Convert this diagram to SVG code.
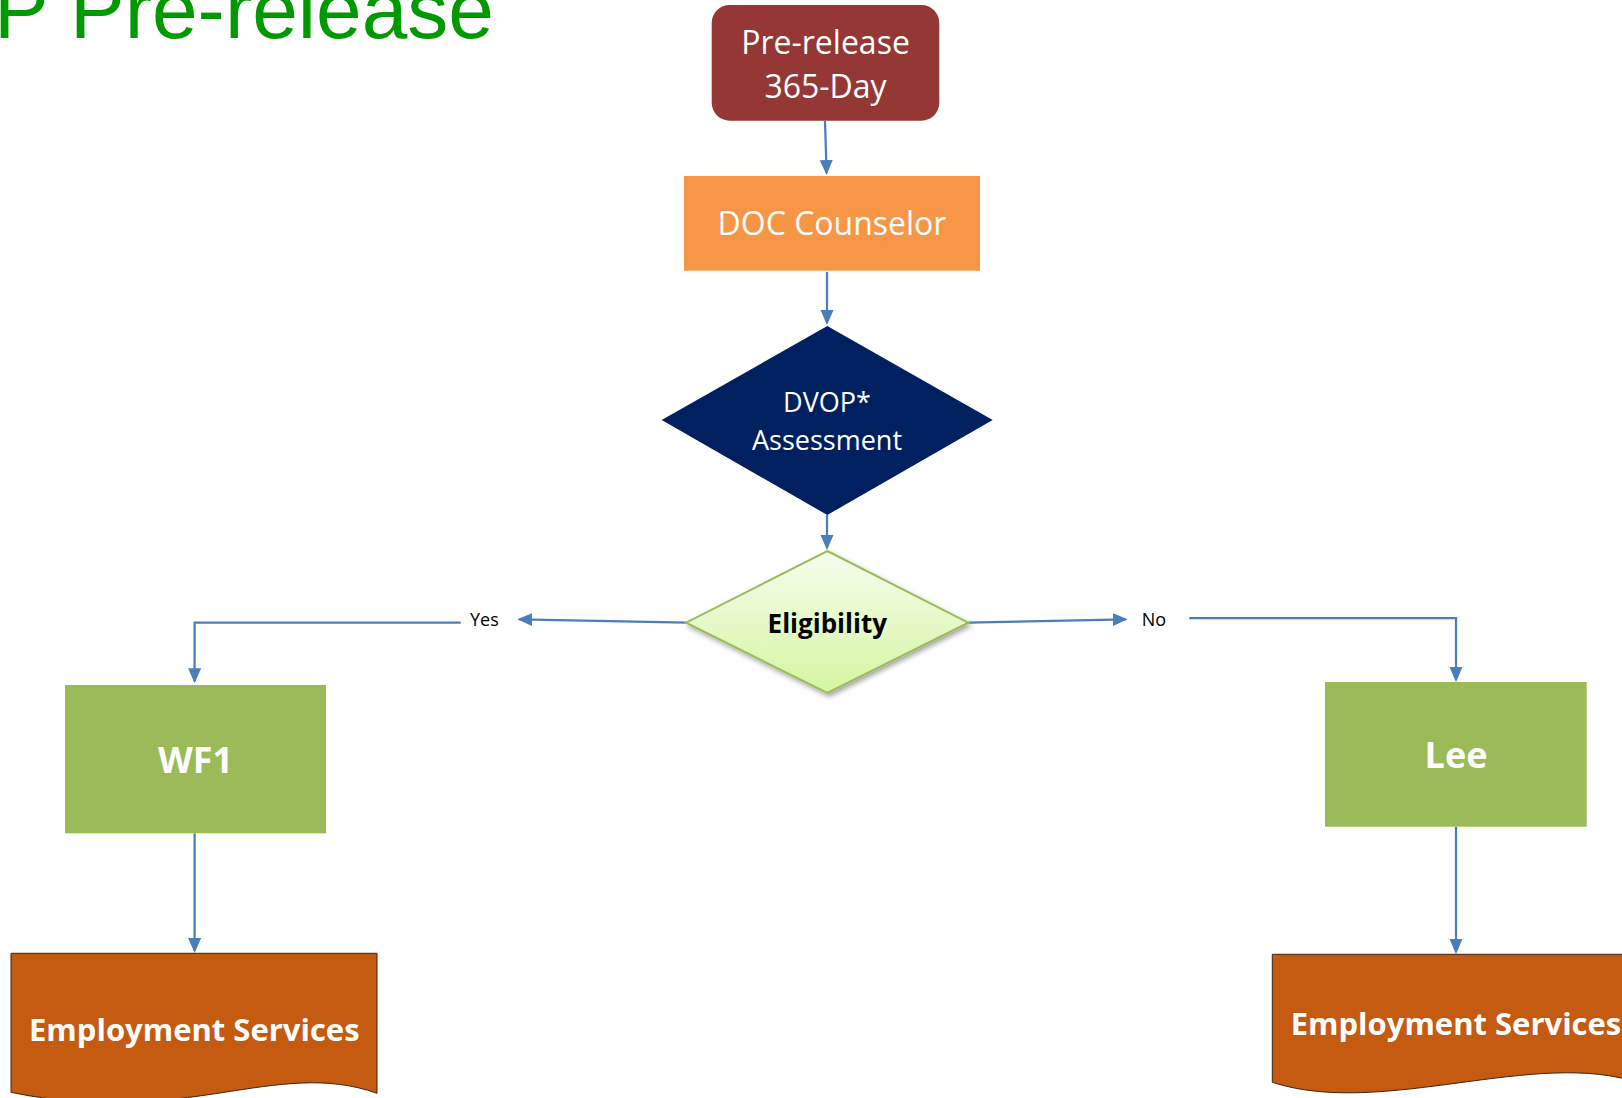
<svg xmlns="http://www.w3.org/2000/svg" width="1622" height="1098" viewBox="0 0 1622 1098">
<style>
.conn{fill:none;stroke:#4a7ebb;stroke-width:2.25}
.lbl{font-family:"Open Sans","Noto Sans",sans-serif;fill:#fff;text-anchor:middle}
.b{font-weight:bold}
.small{font-family:"Open Sans","Noto Sans",sans-serif;font-size:18px;fill:#000}
.green{fill:#9bbb59}
.doc{fill:#c55a11;stroke:#3a2510;stroke-width:1}
</style>
<defs>
<marker id="arr" markerUnits="userSpaceOnUse" markerWidth="16" markerHeight="14" refX="13" refY="6.5" orient="auto">
<path d="M0,0 L15,6.5 L0,13 z" fill="#4a7ebb"/>
</marker>
<linearGradient id="elig" x1="0" y1="0" x2="0" y2="1">
<stop offset="0" stop-color="#f6fdee"/>
<stop offset="1" stop-color="#d5f5a1"/>
</linearGradient>
<filter id="shadow" x="-10%" y="-10%" width="130%" height="140%">
<feDropShadow dx="2" dy="3" stdDeviation="2.5" flood-color="#000" flood-opacity="0.35"/>
</filter>
</defs>

<text id="title" x="-6" y="38" font-family="'Liberation Sans',Arial,sans-serif" font-size="82" fill="#009900">P Pre-release</text>

<g id="connectors">
<path class="conn" d="M825,121 L826.6,173" marker-end="url(#arr)"/>
<path class="conn" d="M827,272 L827,323" marker-end="url(#arr)"/>
<path class="conn" d="M827,515 L827,548" marker-end="url(#arr)"/>
<path class="conn" d="M686.5,622.7 L519.3,619.3" marker-end="url(#arr)"/>
<path class="conn" d="M460.7,622.7 L194.6,622.7 L194.6,681.3" marker-end="url(#arr)"/>
<path class="conn" d="M968.3,622.7 L1125.7,619.3" marker-end="url(#arr)"/>
<path class="conn" d="M1189.3,618 L1456,618 L1456,680" marker-end="url(#arr)"/>
<path class="conn" d="M194.6,833.3 L194.6,951" marker-end="url(#arr)"/>
<path class="conn" d="M1456,826.7 L1456,952" marker-end="url(#arr)"/>
<text class="small" x="470" y="625.7">Yes</text>
<text class="small" x="1141.7" y="625.7">No</text>
</g>

<g id="prerelease">
<rect x="711.7" y="5" width="227.6" height="115.7" rx="18" fill="#953735"/>
<text class="lbl" x="825.5" y="54" font-size="32">Pre-release</text>
<text class="lbl" x="825.5" y="98" font-size="32">365-Day</text>
</g>

<g id="doc-counselor">
<rect x="684" y="176" width="296" height="94.7" fill="#f79646"/>
<text class="lbl" x="832" y="235" font-size="32">DOC Counselor</text>
</g>

<g id="dvop">
<polygon points="827.3,326 992.7,420 827.3,515 661.7,420" fill="#002060"/>
<text class="lbl" x="827" y="411.7" font-size="27">DVOP*</text>
<text class="lbl" x="827" y="450" font-size="27">Assessment</text>
</g>

<g id="eligibility">
<polygon points="827.3,551 968.3,622.7 827.3,693 686,622.7" fill="url(#elig)" stroke="#9bbb59" stroke-width="2" filter="url(#shadow)"/>
<text class="lbl b" x="827.3" y="633.3" font-size="26" style="fill:#000">Eligibility</text>
</g>

<g id="wf1">
<rect class="green" x="65" y="685" width="261" height="148.3"/>
<text class="lbl b" x="195.5" y="773.3" font-size="36">WF1</text>
</g>

<g id="lee">
<rect class="green" x="1325" y="682" width="261.7" height="144.7"/>
<text class="lbl b" x="1456" y="768.3" font-size="36">Lee</text>
</g>

<g id="es-left">
<path class="doc" d="M11,953.3 L377,953.3 L377,1093.3 C276.4,1057.3 183.6,1128.3 11,1092.3 Z"/>
<text class="lbl b" x="194.3" y="1040.7" font-size="31">Employment Services</text>
</g>

<g id="es-right">
<path class="doc" d="M1272.3,954.3 L1640,954.3 L1640,1083.3 C1537.4,1047.3 1382.6,1118.3 1272.3,1082.3 Z"/>
<text class="lbl b" x="1456" y="1035" font-size="31">Employment Services</text>
</g>
</svg>
